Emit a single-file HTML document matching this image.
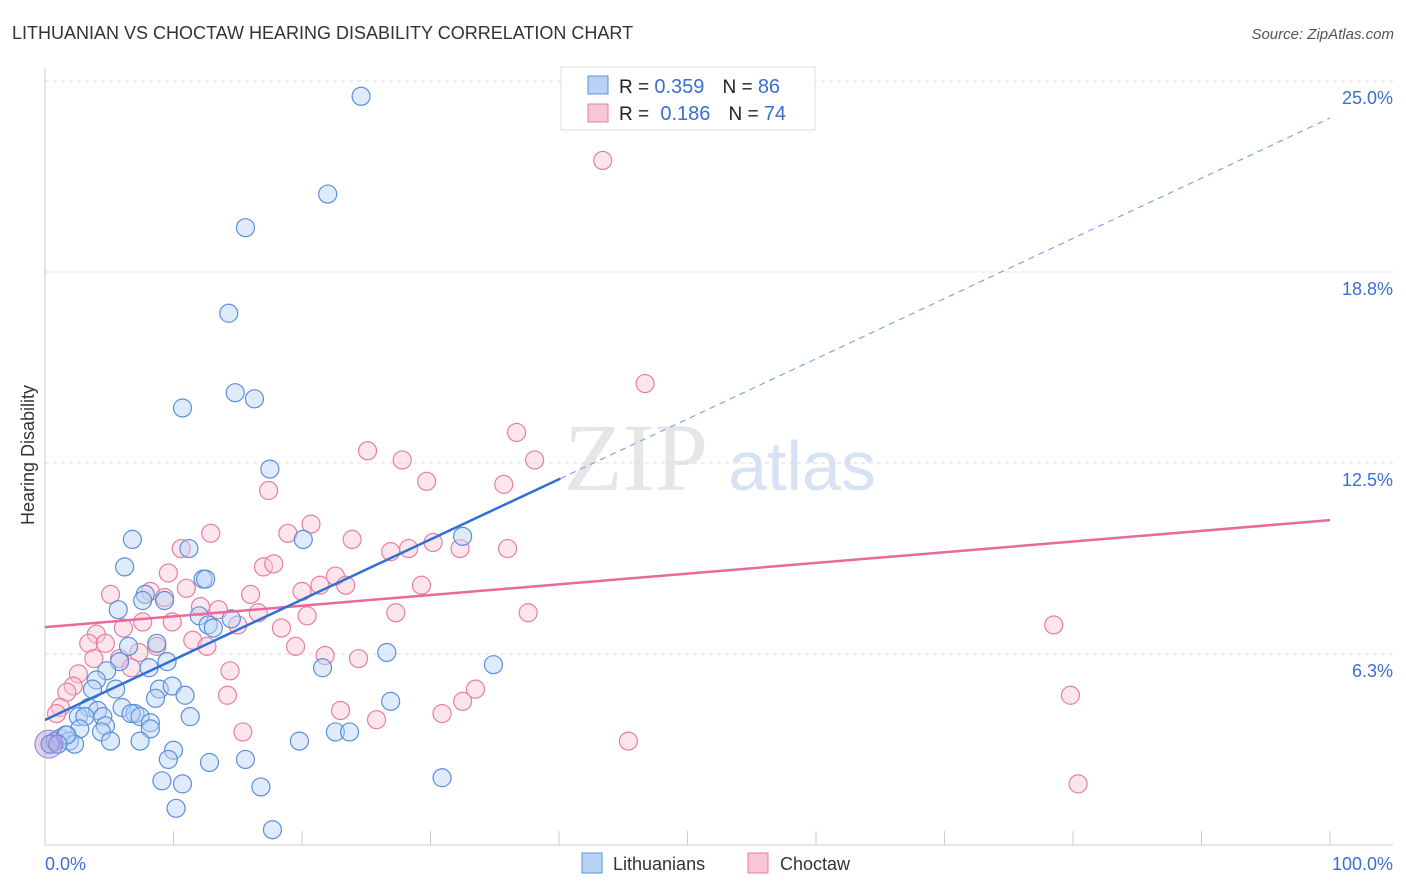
<!DOCTYPE html>
<html><head><meta charset="utf-8"><style>
body{margin:0;background:#fff;font-family:"Liberation Sans",sans-serif;}
svg{display:block}
</style></head><body>
<svg id="chart" width="1406" height="892">
<text x="12" y="39" font-size="18" fill="#333">LITHUANIAN VS CHOCTAW HEARING DISABILITY CORRELATION CHART</text>
<text x="1394" y="39" font-size="15" fill="#555" font-style="italic" text-anchor="end">Source: ZipAtlas.com</text>
<g><text x="636" y="490" font-size="96" font-family="Liberation Serif" fill="#e6e6e6" text-anchor="middle">ZIP</text><text x="802" y="490" font-size="70" fill="#d7e3f4" text-anchor="middle">atlas</text></g>
<g id="grid"></g><g id="axes"></g><g id="marks"></g>
<text transform="translate(34,455) rotate(-90)" font-size="18" fill="#333" text-anchor="middle">Hearing Disability</text>
<text x="45" y="870" font-size="18" fill="#3b6fd1">0.0%</text>
<text x="1393" y="870" font-size="18" fill="#3b6fd1" text-anchor="end">100.0%</text>
<g>
<rect x="561" y="67" width="254" height="63" fill="#fff" stroke="#ddd"/>
<rect x="588" y="76" width="20" height="18" fill="#b9d3f5" stroke="#5b8fdc"/>
<rect x="588" y="104" width="20" height="18" fill="#f9c6d6" stroke="#e87fa0"/>
<text x="619" y="93" font-size="19" fill="#222">R = <tspan fill="#3b6fd1" font-size="20">0.359</tspan><tspan dx="18">N = </tspan><tspan fill="#3b6fd1" font-size="20">86</tspan></text>
<text x="619" y="120" font-size="19" fill="#222">R = <tspan fill="#3b6fd1" dx="6" font-size="20">0.186</tspan><tspan dx="18">N = </tspan><tspan fill="#3b6fd1" font-size="20">74</tspan></text>
</g>
<g>
<rect x="582" y="853" width="20" height="20" fill="#b9d3f5" stroke="#5b8fdc"/>
<text x="613" y="870" font-size="18" fill="#333">Lithuanians</text>
<rect x="748" y="853" width="20" height="20" fill="#f9c6d6" stroke="#e87fa0"/>
<text x="780" y="870" font-size="18" fill="#333">Choctaw</text>
</g>
</svg>
<script>
const yTicks=[6.25,12.5,18.75,25];
const yTickLabels=["6.3%","12.5%","18.8%","25.0%"];
const blueX=[24.6,22.0,15.6,14.3,10.7,14.8,16.3,17.5,6.8,11.2,20.1,32.5,6.2,12.3,12.5,7.8,7.6,9.3,5.7,12.0,12.7,13.1,14.5,8.7,6.5,26.6,34.9,21.6,5.8,8.1,9.5,4.8,4.0,5.5,3.7,8.9,9.9,8.6,10.9,26.9,6.0,3.4,4.1,7.0,6.7,11.3,2.6,3.1,4.5,7.4,8.2,2.7,4.7,8.2,22.6,23.7,4.4,5.1,7.4,19.8,0.8,1.2,1.6,1.9,2.3,0.4,1.7,1.0,10.0,9.6,12.8,15.6,30.9,9.1,10.7,16.8,10.2,17.7];
const blueY=[24.5,21.3,20.2,17.4,14.3,14.8,14.6,12.3,10.0,9.7,10.0,10.1,9.1,8.7,8.7,8.2,8.0,8.0,7.7,7.5,7.2,7.1,7.4,6.6,6.5,6.3,5.9,5.8,6.0,5.8,6.0,5.7,5.4,5.1,5.1,5.1,5.2,4.8,4.9,4.7,4.5,4.5,4.4,4.3,4.3,4.2,4.2,4.2,4.2,4.2,4.0,3.8,3.9,3.8,3.7,3.7,3.7,3.4,3.4,3.4,3.4,3.5,3.6,3.4,3.3,3.3,3.6,3.3,3.1,2.8,2.7,2.8,2.2,2.1,2.0,1.9,1.2,0.5];
const pinkX=[43.4,46.7,36.7,25.1,27.8,38.1,29.7,35.7,17.4,20.7,12.9,18.9,23.9,30.2,10.6,26.9,28.3,32.3,36.0,17.0,17.8,9.6,22.6,21.4,23.4,29.3,11.0,20.0,8.2,5.1,9.3,16.0,12.1,13.5,27.3,37.6,20.4,16.6,7.6,9.9,15.0,6.1,18.4,78.5,4.0,3.4,4.7,8.7,11.5,12.6,19.5,7.3,3.8,5.8,21.8,24.4,6.7,14.4,2.6,2.2,33.5,1.7,14.2,32.5,79.8,1.2,23.0,0.9,30.9,25.8,15.4,45.4,0.4,80.4];
const pinkY=[22.4,15.1,13.5,12.9,12.6,12.6,11.9,11.8,11.6,10.5,10.2,10.2,10.0,9.9,9.7,9.6,9.7,9.7,9.7,9.1,9.2,8.9,8.8,8.5,8.5,8.5,8.4,8.3,8.3,8.2,8.1,8.2,7.8,7.7,7.6,7.6,7.5,7.6,7.3,7.3,7.2,7.1,7.1,7.2,6.9,6.6,6.6,6.5,6.7,6.5,6.5,6.3,6.1,6.1,6.2,6.1,5.8,5.7,5.6,5.2,5.1,5.0,4.9,4.7,4.9,4.5,4.4,4.3,4.3,4.1,3.7,3.4,3.3,2.0];
const blueFit=[4.09,0.197], pinkFit=[7.13,0.035];
const NS="http://www.w3.org/2000/svg";
const X=v=>45+v*12.85, Y=v=>845-v*30.56;
function mk(t,a,p){const e=document.createElementNS(NS,t);for(const k in a)e.setAttribute(k,a[k]);p.appendChild(e);return e;}
const grid=document.getElementById('grid'),axes=document.getElementById('axes'),marks=document.getElementById('marks');
yTicks.forEach((t,i)=>{
 const l=mk('line',{x1:45,x2:1393,y1:Y(t),y2:Y(t),stroke:'#ddd','stroke-dasharray':'4,4'},grid);
 
 
 const tx=mk('text',{x:1393,y:Y(t)+23,'font-size':18,fill:'#3b6fd1','text-anchor':'end'},grid);
 tx.textContent=yTickLabels[i];
 
 
});
const ax=mk('line',{x1:45,x2:45,y1:68,y2:845,stroke:'#ccc'},axes);


const bx=mk('line',{x1:45,x2:1393,y1:845,y2:845,stroke:'#ccc'},axes);


for(let i=0;i<=10;i++){const t=mk('line',{x1:X(i*10),x2:X(i*10),y1:831,y2:845,stroke:'#ccc'},axes);
 
 }
function pts(xs,ys,fill,stroke,name){xs.forEach((v,i)=>{const c=mk('circle',{cx:X(v),cy:Y(ys[i]),r:9,fill:fill,'fill-opacity':0.45,stroke:stroke,'stroke-width':1.2},marks);
 
 });}
pts(pinkX,pinkY,'#f9c6d6','#e87fa0','choctaw-point');
pts(blueX,blueY,'#b9d3f5','#5b8fdc','lithuanian-point');
const big=mk('circle',{cx:X(0.3),cy:Y(3.3),r:14,fill:'#a88ad8','fill-opacity':0.4,stroke:'#9a7fd0'},marks);


const pl=mk('line',{x1:X(0),y1:Y(pinkFit[0]),x2:X(100),y2:Y(pinkFit[0]+pinkFit[1]*100),stroke:'#e8699a','stroke-width':2.5},marks);


const bl=mk('line',{x1:X(0),y1:Y(blueFit[0]),x2:X(40.1),y2:Y(blueFit[0]+blueFit[1]*40.1),stroke:'#2f6fd6','stroke-width':2.5},marks);


const bd=mk('line',{x1:X(40.1),y1:Y(blueFit[0]+blueFit[1]*40.1),x2:X(100),y2:Y(blueFit[0]+blueFit[1]*100),stroke:'#7fa6e3','stroke-width':1.2,'stroke-dasharray':'6,5'},marks);


</script>
</body></html>
